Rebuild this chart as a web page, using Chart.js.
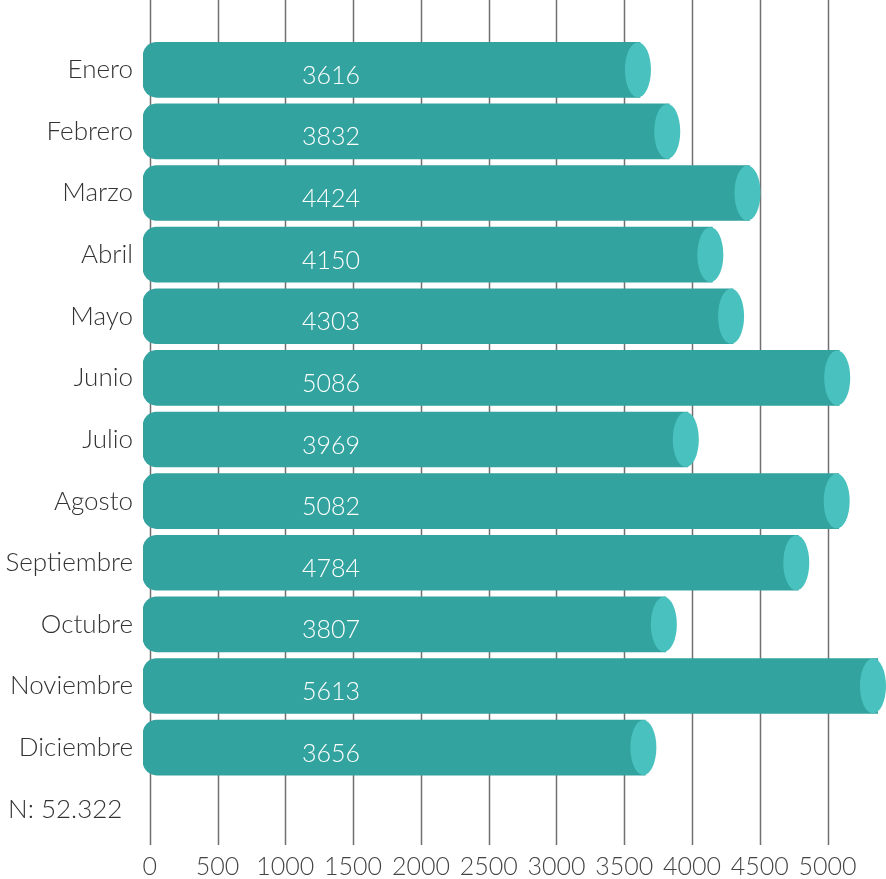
<!DOCTYPE html>
<html>
<head>
<meta charset="utf-8">
<title>Visitas por mes</title>
<script src="https://cdn.jsdelivr.net/npm/chart.js@4.4.0/dist/chart.umd.min.js"></script>
<style>
    html, body { margin: 0; padding: 0; background: #fff; }
    #wrap { width: 886px; height: 879px; position: relative; }
</style>
</head>
<body>
<div id="wrap"><canvas id="meses"></canvas></div>
<script>
    // Datos
    var meses = ["Enero", "Febrero", "Marzo", "Abril", "Mayo", "Junio", "Julio",
        "Agosto", "Septiembre", "Octubre", "Noviembre", "Diciembre"];
    var visitas = [3616, 3832, 4424, 4150, 4303, 5086, 3969, 5082, 4784, 3807, 5613, 3656];
    var ticksX = [0, 500, 1000, 1500, 2000, 2500, 3000, 3500, 4000, 4500, 5000];
    var total = "N: 52.322";

    var FUENTE = "Lato";
    var CUERPO = "#32a39f";
    var TAPA = "#49c2bf";

    // Gridlines, cylinder caps, value labels and the N label
    var cilindros = {
        id: "cilindros",
        beforeDatasetsDraw: function (chart) {
            var ctx = chart.ctx;
            var x = chart.scales.x;
            var area = chart.chartArea;
            ctx.save();
            ctx.strokeStyle = "#707070";
            ctx.lineWidth = 1.5;
            x.ticks.forEach(function (t) {
                var px = Math.round(x.getPixelForValue(t.value)) + 0.5;
                ctx.beginPath();
                ctx.moveTo(px, 0);
                ctx.lineTo(px, area.bottom + 5);
                ctx.stroke();
            });
            ctx.restore();
        },
        afterDatasetsDraw: function (chart) {
            var ctx = chart.ctx;
            var area = chart.chartArea;
            var meta = chart.getDatasetMeta(0);
            ctx.save();
            meta.data.forEach(function (bar, i) {
                var h = bar.height;
                var cx = Math.min(bar.x - 2, area.right - 5);
                ctx.fillStyle = TAPA;
                ctx.beginPath();
                ctx.ellipse(cx, bar.y, 13, h / 2, 0, 0, 2 * Math.PI);
                ctx.fill();

                ctx.fillStyle = "#ffffff";
                ctx.font = "300 25px " + FUENTE;
                ctx.textAlign = "center";
                ctx.textBaseline = "middle";
                ctx.fillText(String(visitas[i]), area.left + 188, bar.y + 6);
            });

            var y = chart.scales.y;
            ctx.fillStyle = "#333333";
            ctx.font = "300 26px " + FUENTE;
            ctx.textAlign = "left";
            ctx.textBaseline = "middle";
            ctx.fillText(total, 8, y.getPixelForValue(12));
            ctx.restore();
        }
    };

    var ctx = document.getElementById("meses").getContext("2d");
    var grafico = new Chart(ctx, {
        type: "bar",
        data: {
            labels: meses.concat([""]),
            datasets: [{
                data: visitas,
                base: -50,
                backgroundColor: CUERPO,
                borderWidth: 0,
                borderSkipped: false,
                borderRadius: { topLeft: 14, bottomLeft: 14, topRight: 0, bottomRight: 0 },
                barThickness: 55
            }]
        },
        options: {
            indexAxis: "y",
            responsive: true,
            maintainAspectRatio: false,
            animation: false,
            layout: { padding: { top: 39, right: 8, bottom: 0, left: 0 } },
            plugins: {
                legend: { display: false },
                tooltip: { enabled: false }
            },
            scales: {
                x: {
                    type: "linear",
                    min: -50,
                    max: 5372,
                    afterBuildTicks: function (s) {
                        s.ticks = ticksX.map(function (v) { return { value: v }; });
                    },
                    afterFit: function (s) { s.height = 39; },
                    grid: { display: false, drawTicks: false },
                    border: { display: false },
                    ticks: {
                        color: "#444444",
                        padding: 12,
                        maxRotation: 0,
                        autoSkip: false,
                        font: { family: FUENTE, size: 25, weight: "300" },
                        callback: function (v) { return String(v); }
                    }
                },
                y: {
                    afterFit: function (s) { s.width = 143; },
                    grid: { display: false, drawTicks: false },
                    border: { display: false },
                    ticks: {
                        color: "#333333",
                        padding: 10,
                        autoSkip: false,
                        font: { family: FUENTE, size: 26, weight: "300" }
                    }
                }
            }
        },
        plugins: [cilindros]
    });
</script>
</body>
</html>
